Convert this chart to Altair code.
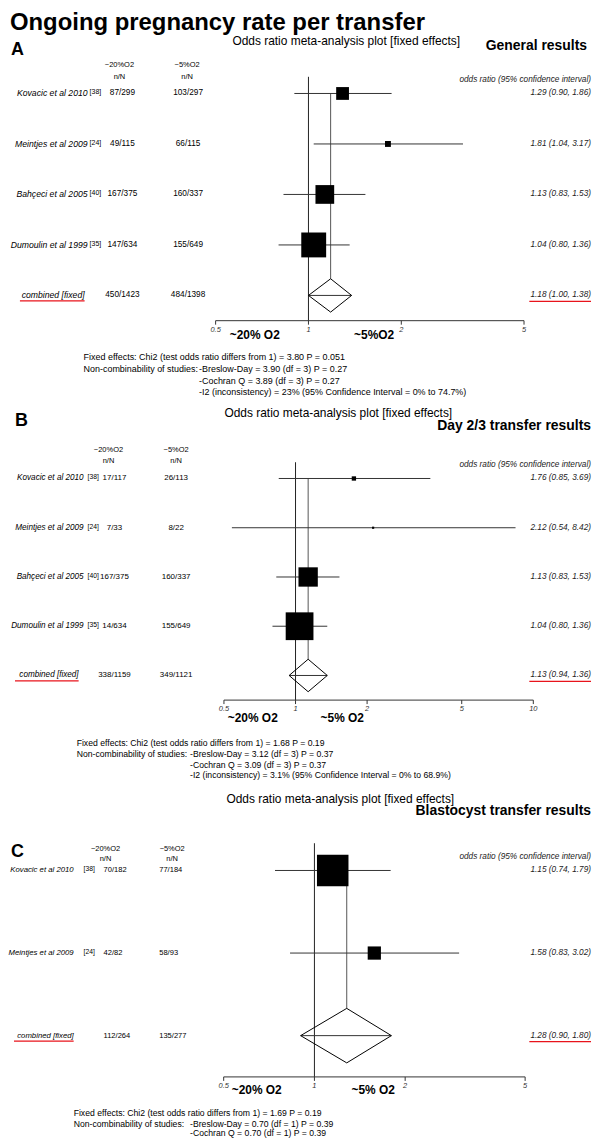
import altair as alt
import pandas as pd

W = 584
FONT = "Liberation Sans"

# ---------------- data ----------------
names4 = ["Kovacic et al 2010", "Meintjes et al 2009", "Bahçeci et al 2005", "Dumoulin et al 1999"]
refs4 = ["[38]", "[24]", "[40]", "[35]"]

# A: general results
a_hi_n = [87, 49, 167, 147]
a_hi_N = [299, 115, 375, 634]
a_lo_n = [103, 66, 160, 155]
a_lo_N = [297, 115, 337, 649]
a_or = [1.29, 1.81, 1.13, 1.04]
a_l = [0.90, 1.04, 0.83, 0.80]
a_u = [1.86, 3.17, 1.53, 1.36]
a_w = [14, 3, 30, 53]
a_comb_hi = (450, 1423)
a_comb_lo = (484, 1398)
a_comb = (1.18, 1.00, 1.38)
a_ticks = [0.5, 1, 2, 5]
a_stats = [
    "Fixed effects: Chi2 (test odds ratio differs from 1) = 3.80  P = 0.051",
    "Non-combinability of studies:",
    "-Breslow-Day = 3.90  (df = 3)  P = 0.27",
    "-Cochran Q = 3.89  (df = 3)  P = 0.27",
    "-I2 (inconsistency) = 23% (95% Confidence Interval = 0% to 74.7%)",
]

# B: day 2/3 transfer
b_hi_n = [17, 7, 167, 14]
b_hi_N = [117, 33, 375, 634]
b_lo_n = [26, 8, 160, 155]
b_lo_N = [113, 22, 337, 649]
b_or = [1.76, 2.12, 1.13, 1.04]
b_l = [0.85, 0.54, 0.83, 0.80]
b_u = [3.69, 8.42, 1.53, 1.36]
b_w = [1.6, 0.4, 32, 66]
b_comb_hi = (338, 1159)
b_comb_lo = (349, 1121)
b_comb = (1.13, 0.94, 1.36)
b_ticks = [0.5, 1, 2, 5, 10]
b_stats = [
    "Fixed effects: Chi2 (test odds ratio differs from 1) = 1.68  P = 0.19",
    "Non-combinability of studies:",
    "-Breslow-Day = 3.12  (df = 3)  P = 0.37",
    "-Cochran Q = 3.09 (df = 3)  P = 0.37",
    "-I2 (inconsistency) = 3.1% (95% Confidence Interval = 0% to 68.9%)",
]

# C: blastocyst transfer
c_names = names4[:2]
c_refs = refs4[:2]
c_hi_n = [70, 42]
c_hi_N = [182, 82]
c_lo_n = [77, 58]
c_lo_N = [184, 93]
c_or = [1.15, 1.58]
c_l = [0.74, 0.83]
c_u = [1.79, 3.02]
c_w = [85, 15]
c_comb_hi = (112, 264)
c_comb_lo = (135, 277)
c_comb = (1.28, 0.90, 1.80)
c_ticks = [0.5, 1, 2, 5]
c_stats = [
    "Fixed effects: Chi2 (test odds ratio differs from 1) = 1.69  P = 0.19",
    "Non-combinability of studies:",
    "-Breslow-Day = 0.70  (df = 1)  P = 0.39",
    "-Cochran Q = 0.70  (df = 1)  P = 0.39",
]


def fmt_tick(t):
    return ("%g" % t)


def panel(P):
    top = P["top"]
    H = P["height"]
    r0 = P["row0"] - top
    sp = P["sp"]
    ydom = [-r0 / sp, (H - r0) / sp]
    L1 = P["x1"] - 8
    k = P["k"]
    xdom = [10 ** (-L1 / k), 10 ** ((W - L1) / k)]
    xs = alt.Scale(type="log", domain=xdom, nice=False, zero=False)
    ys = alt.Scale(domain=ydom, reverse=True, nice=False, zero=False)

    def X(f):
        return alt.X(f"{f}:Q", scale=xs, axis=None)

    def Y(f):
        return alt.Y(f"{f}:Q", scale=ys, axis=None)

    def T(text, x, y, size, weight="normal", style="normal", align="left", color="black"):
        return alt.Chart(pd.DataFrame({"t": [text]})).mark_text(
            align=align, baseline="middle", fontSize=size, fontWeight=weight,
            fontStyle=style, color=color
        ).encode(x=alt.value(x - 8), y=alt.value(y - top), text="t:N")

    n = len(P["names"])
    crow = n
    arow = n + 0.5
    dh = 0.33
    st = pd.DataFrame({
        "row": list(range(n)),
        "name": P["names"],
        "ref": P["refs"],
        "c1": [f"{a}/{b}" for a, b in zip(P["hn"], P["hN"])],
        "c2": [f"{a}/{b}" for a, b in zip(P["ln"], P["lN"])],
        "or": P["or"], "lo": P["l"], "hi": P["u"], "w": P["w"],
    })
    st["lab"] = [f"{o:.2f} ({l:.2f}, {u:.2f})" for o, l, u in zip(st["or"], st["lo"], st["hi"])]
    co, cl, cu = P["comb"]
    cb = pd.DataFrame({
        "row": [crow], "name": ["combined [fixed]"],
        "c1": [f"{P['comb_hi'][0]}/{P['comb_hi'][1]}"],
        "c2": [f"{P['comb_lo'][0]}/{P['comb_lo'][1]}"],
        "or": [co], "lo": [cl], "hi": [cu],
        "lab": [f"{co:.2f} ({cl:.2f}, {cu:.2f})"],
    })
    both = pd.concat([st, cb], ignore_index=True)
    dia = pd.DataFrame({
        "dx": [cl, co, cu, co, cl],
        "dy": [crow, crow - dh, crow, crow + dh, crow],
        "o": list(range(5)),
    })
    tdf = pd.DataFrame({"t": P["ticks"], "lab": [fmt_tick(t) for t in P["ticks"]],
                        "ay": [arow] * len(P["ticks"]), "ay2": [arow] * len(P["ticks"])})

    layers = []
    # null line and pooled-estimate line
    layers.append(alt.Chart(pd.DataFrame({"x": [1.0], "y": [-dh], "y2": [arow]})).mark_rule(
        color="#222", strokeWidth=1).encode(x=X("x"), y=Y("y"), y2="y2:Q"))
    layers.append(alt.Chart(pd.DataFrame({"x": [co], "y": [0], "y2": [crow - dh]})).mark_rule(
        color="#555", strokeWidth=1).encode(x=X("x"), y=Y("y"), y2="y2:Q"))
    # CI lines
    layers.append(alt.Chart(both).mark_rule(color="#333", strokeWidth=1).encode(
        x=X("lo"), x2="hi:Q", y=Y("row")))
    # boxes (area proportional to weight)
    layers.append(alt.Chart(st).mark_square(filled=True, color="black", opacity=1).encode(
        x=X("or"), y=Y("row"),
        size=alt.Size("w:Q", scale=alt.Scale(domain=[0, 100], range=[0, 100 * P["sf"]]), legend=None)))
    # pooled diamond
    layers.append(alt.Chart(dia).mark_line(color="black", strokeWidth=1).encode(
        x=X("dx"), y=Y("dy"), order="o:Q"))
    # axis
    layers.append(alt.Chart(pd.DataFrame({"x": [P["ticks"][0]], "x2": [P["ticks"][-1]], "y": [arow]})).mark_rule(
        color="#333", strokeWidth=1).encode(x=X("x"), x2="x2:Q", y=Y("y")))
    layers.append(alt.Chart(tdf).mark_rule(color="#333", strokeWidth=1, y2Offset=4).encode(
        x=X("t"), y=Y("ay"), y2="ay2:Q"))
    layers.append(alt.Chart(tdf).mark_text(fontSize=7.5, fontStyle="italic", dy=9, baseline="middle",
                                           color="#333").encode(x=X("t"), y=Y("ay"), text="lab:N"))
    # left columns
    layers.append(alt.Chart(st).mark_text(align="right", baseline="middle", fontStyle="italic",
                                          fontSize=P["fs_name"]).encode(
        x=alt.value(P["name_x"] - 8), y=Y("row"), text="name:N"))
    layers.append(alt.Chart(st).mark_text(align="left", baseline="middle", fontSize=P["fs_ref"], dy=-1).encode(
        x=alt.value(P["ref_x"] - 8), y=Y("row"), text="ref:N"))
    layers.append(alt.Chart(cb).mark_text(align="right", baseline="middle", fontStyle="italic",
                                          fontSize=P["fs_name"]).encode(
        x=alt.value(P["comb_x"] - 8), y=Y("row"), text="name:N"))
    layers.append(alt.Chart(both).mark_text(align=P["c_align"], baseline="middle", fontSize=P["fs_num"]).encode(
        x=alt.value(P["c1_x"] - 8), y=Y("row"), text="c1:N"))
    layers.append(alt.Chart(both).mark_text(align=P["c_align"], baseline="middle", fontSize=P["fs_num"]).encode(
        x=alt.value(P["c2_x"] - 8), y=Y("row"), text="c2:N"))
    # right column
    layers.append(alt.Chart(both).mark_text(align="right", baseline="middle", fontStyle="italic",
                                            fontSize=8.3, color="#222").encode(
        x=alt.value(P["right_x"] - 8), y=Y("row"), text="lab:N"))
    # red underlines on pooled row
    ul0, ul1 = P["ul_left"]
    layers.append(alt.Chart(cb).mark_rule(color="#e8131b", strokeWidth=1.3, yOffset=5.5).encode(
        x=alt.value(ul0 - 8), x2=alt.value(ul1 - 8), y=Y("row")))
    layers.append(alt.Chart(cb).mark_rule(color="#e8131b", strokeWidth=1.3, yOffset=6).encode(
        x=alt.value(P["right_x"] - 62 - 8), x2=alt.value(P["right_x"] - 8), y=Y("row")))

    # static texts
    if P.get("title"):
        layers.append(T(P["title"], 8, 18, 24, weight="bold"))
    lx, ly = P["label_xy"]
    layers.append(T(P["label"], lx, ly, 18, weight="bold"))
    tx, ty = P["head_xy"]
    layers.append(T("Odds ratio meta-analysis plot [fixed effects]", tx, ty, 12, align="center"))
    sx, sy = P["sub_xy"]
    layers.append(T(P["sub"], sx, sy, 14, weight="bold", align="right"))
    h1, h2 = P["hdr_x"]
    hy1, hy2 = P["hdr_y"]
    layers.append(T("~20%O2", h1, hy1, 7.5, align="center"))
    layers.append(T("n/N", h1, hy2, 7.5, align="center"))
    layers.append(T("~5%O2", h2, hy1, 7.5, align="center"))
    layers.append(T("n/N", h2, hy2, 7.5, align="center"))
    layers.append(T("odds ratio (95% confidence interval)", P["right_x"], P["orh_y"], 8.3,
                    style="italic", align="right", color="#222"))
    g1, g2, gy = P["grp"]
    layers.append(T("~20% O2", g1, gy, 12, weight="bold", align="center"))
    layers.append(T(P["grp5"], g2, gy, 12, weight="bold", align="center"))
    sx0, sx1 = P["stats_x"]
    for i, (line, y) in enumerate(zip(P["stats"], P["stats_y"])):
        x = sx0 if i < 2 else sx1
        layers.append(T(line, x, y, P["fs_stats"]))

    return alt.layer(*layers).properties(width=W, height=H)


PA = dict(
    top=8, height=392, row0=89, sp=50.75, x1=308, k=310, sf=11.8,
    names=names4, refs=refs4, hn=a_hi_n, hN=a_hi_N, ln=a_lo_n, lN=a_lo_N,
    **{"or": a_or}, l=a_l, u=a_u, w=a_w, comb=a_comb, comb_hi=a_comb_hi, comb_lo=a_comb_lo,
    ticks=a_ticks, fs_name=8.7, fs_ref=7, fs_num=8.3, name_x=86, ref_x=88, comb_x=83,
    c_align="center", c1_x=121, c2_x=187, right_x=592, ul_left=(18, 83),
    title="Ongoing pregnancy rate per transfer", label="A", label_xy=(9, 45),
    head_xy=(346, 36), sub="General results", sub_xy=(588, 41),
    hdr_x=(118, 186), hdr_y=(60, 72), orh_y=75,
    grp=(254, 374, 332), grp5="~5%O2", fs_stats=9,
    stats=a_stats, stats_x=(82, 198), stats_y=[354, 366, 366, 378, 389],
)

PB = dict(
    top=400, height=386, row0=476, sp=49.5, x1=295, k=239, sf=10.2,
    names=names4, refs=refs4, hn=b_hi_n, hN=b_hi_N, ln=b_lo_n, lN=b_lo_N,
    **{"or": b_or}, l=b_l, u=b_u, w=b_w, comb=b_comb, comb_hi=b_comb_hi, comb_lo=b_comb_lo,
    ticks=b_ticks, fs_name=8.2, fs_ref=6.8, fs_num=8, name_x=82, ref_x=86, comb_x=77,
    c_align="center", c1_x=113, c2_x=175, right_x=592, ul_left=(13, 77),
    label="B", label_xy=(13, 418),
    head_xy=(338, 410), sub="Day 2/3 transfer results", sub_xy=(592, 423),
    hdr_x=(107, 175), hdr_y=(447, 458), orh_y=462,
    grp=(252, 342, 717), grp5="~5% O2", fs_stats=8.7,
    stats=b_stats, stats_x=(75, 189), stats_y=[742, 753, 753, 764, 774],
)

PC = dict(
    top=786, height=352, row0=870, sp=83, x1=314, k=303, sf=18.8,
    names=c_names, refs=c_refs, hn=c_hi_n, hN=c_hi_N, ln=c_lo_n, lN=c_lo_N,
    **{"or": c_or}, l=c_l, u=c_u, w=c_w, comb=c_comb, comb_hi=c_comb_hi, comb_lo=c_comb_lo,
    ticks=c_ticks, fs_name=7.8, fs_ref=6.8, fs_num=7.6, name_x=72, ref_x=82, comb_x=72,
    c_align="left", c1_x=102, c2_x=158, right_x=592, ul_left=(12, 72),
    label="C", label_xy=(9, 851),
    head_xy=(340, 798), sub="Blastocyst transfer results", sub_xy=(592, 810),
    hdr_x=(104, 171), hdr_y=(848, 858), orh_y=856,
    grp=(256, 373, 1091), grp5="~5% O2", fs_stats=8.7,
    stats=c_stats, stats_x=(72, 189), stats_y=[1114, 1125, 1125, 1134],
)

chart = alt.vconcat(panel(PA), panel(PB), panel(PC), spacing=0, bounds="flush").properties(
    padding=0, background="white"
).configure_view(stroke=None).configure_text(font=FONT)

chart.save("out.html", embed_options={"renderer": "svg", "actions": False})
